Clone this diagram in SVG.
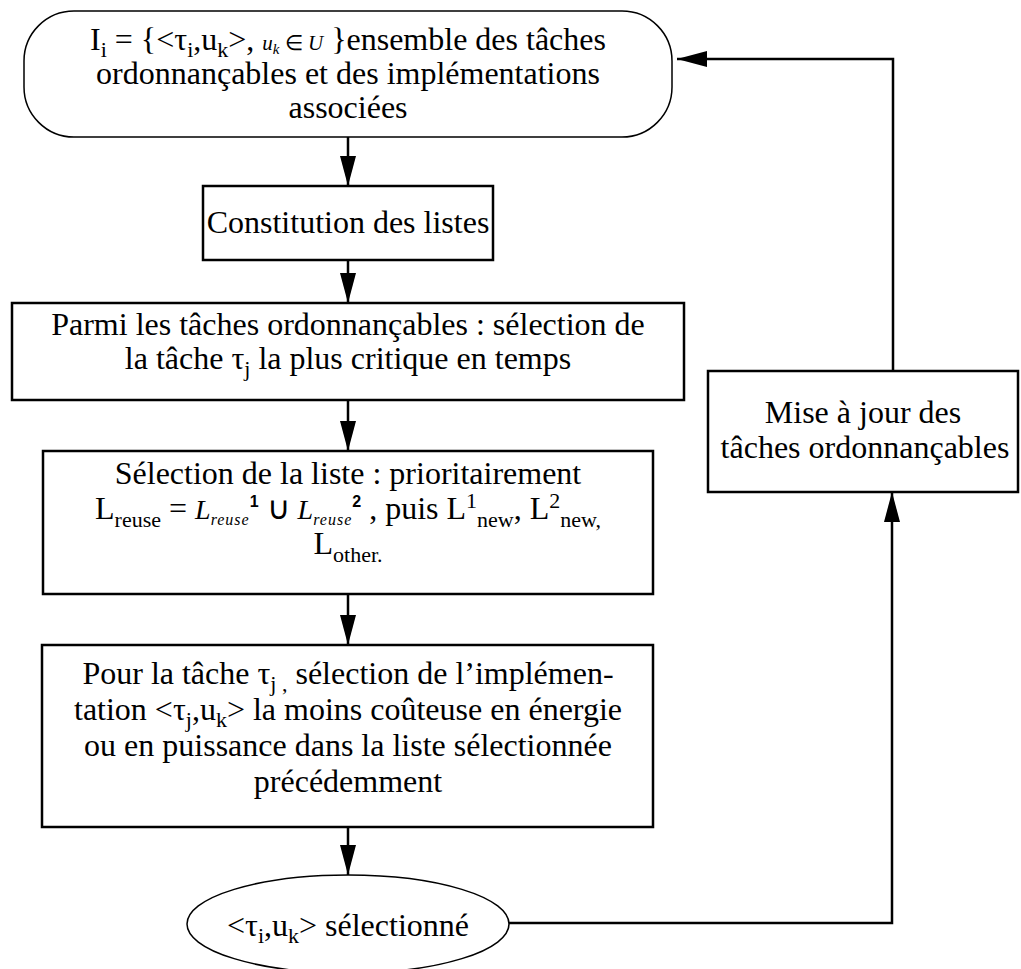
<svg xmlns="http://www.w3.org/2000/svg" width="1021" height="969" viewBox="0 0 1021 969">
<style>
text{font-family:"Liberation Serif","Times New Roman",serif;font-size:32px;fill:#000;text-anchor:middle}
.s{font-size:22px}
.it{font-style:italic}
.b{font-family:"Liberation Sans",Arial,sans-serif;font-weight:bold;font-size:16px}
.box{fill:#fff;stroke:#000;stroke-width:2.5}
.thin{fill:#fff;stroke:#000;stroke-width:1.5}
.con{fill:none;stroke:#000;stroke-width:2.5}
</style>
<defs>
<marker id="ah" markerUnits="userSpaceOnUse" markerWidth="30" markerHeight="16" refX="30" refY="8" orient="auto">
<path d="M0,0 L30,8 L0,16 z" fill="#000"/>
</marker>
</defs>
<rect width="1021" height="969" fill="#fff"/>
<g id="connectors">
<path class="con" d="M348,137 V186" marker-end="url(#ah)"/>
<path class="con" d="M348,260 V303" marker-end="url(#ah)"/>
<path class="con" d="M348,400 V451" marker-end="url(#ah)"/>
<path class="con" d="M348,594 V645" marker-end="url(#ah)"/>
<path class="con" d="M348,827 V875" marker-end="url(#ah)"/>
<path class="con" d="M509,923 H892 V492" marker-end="url(#ah)"/>
<path class="con" d="M893,371 V59 H677" marker-end="url(#ah)"/>
</g>
<g id="n1">
<rect class="thin" x="24" y="11" width="648" height="126" rx="50" ry="50"/>
<text x="348" y="50">I<tspan class="s" dy="7">i</tspan><tspan dy="-7"> = {&lt;τ</tspan><tspan class="s" dy="7">i</tspan><tspan dy="-7">,u</tspan><tspan class="s" dy="7">k</tspan><tspan dy="-7">&gt;, </tspan><tspan class="it" font-size="21">u</tspan><tspan class="it" font-size="15" dy="4">k</tspan><tspan font-size="21" dy="-4"> ∈ </tspan><tspan class="it" font-size="21">U</tspan><tspan> }ensemble des tâches</tspan></text>
<text x="348" y="84">ordonnançables et des implémentations</text>
<text x="348" y="118">associées</text>
</g>
<g id="n2">
<rect class="box" x="203" y="186" width="290" height="74"/>
<text x="348" y="233">Constitution des listes</text>
</g>
<g id="n3">
<rect class="box" x="12" y="303" width="672" height="97"/>
<text x="348" y="335">Parmi les tâches ordonnançables : sélection de</text>
<text x="348" y="369">la tâche  τ<tspan class="s" dy="7">j</tspan><tspan dy="-7"> la plus critique en temps</tspan></text>
</g>
<g id="n4">
<rect class="box" x="43" y="451" width="610" height="143"/>
<text x="348" y="484">Sélection de la liste : prioritairement</text>
<text x="348" y="519">L<tspan class="s" dy="8">reuse</tspan><tspan dy="-8"> = </tspan><tspan class="it" font-size="28">L</tspan><tspan class="it" font-size="16" dy="6" letter-spacing="1">reuse</tspan><tspan class="b" dy="-18">1</tspan><tspan dy="12"> ∪ </tspan><tspan class="it" font-size="28">L</tspan><tspan class="it" font-size="16" dy="6" letter-spacing="1">reuse</tspan><tspan class="b" dy="-18">2</tspan><tspan dy="12"> , puis L</tspan><tspan class="s" dy="-11">1</tspan><tspan class="s" dy="19">new</tspan><tspan dy="-8">, L</tspan><tspan class="s" dy="-11">2</tspan><tspan class="s" dy="19">new,</tspan></text>
<text x="348" y="554">L<tspan class="s" dy="8">other.</tspan></text>
</g>
<g id="n5">
<rect class="box" x="42" y="645" width="611" height="182"/>
<text x="348" y="684">Pour la tâche τ<tspan class="s" dy="7">j ,</tspan><tspan dy="-7">  sélection de l’implémen-</tspan></text>
<text x="348" y="720">tation &lt;τ<tspan class="s" dy="7">j</tspan><tspan dy="-7">,u</tspan><tspan class="s" dy="7">k</tspan><tspan dy="-7">&gt; la moins coûteuse en énergie</tspan></text>
<text x="348" y="756">ou en puissance dans la liste sélectionnée</text>
<text x="348" y="792">précédemment</text>
</g>
<g id="n6">
<ellipse class="thin" cx="348" cy="924" rx="161" ry="49"/>
<text x="348" y="936">&lt;τ<tspan class="s" dy="7">i</tspan><tspan dy="-7">,u</tspan><tspan class="s" dy="7">k</tspan><tspan dy="-7">&gt; sélectionné</tspan></text>
</g>
<g id="n7">
<rect class="box" x="708" y="371" width="310" height="121"/>
<text x="863" y="423">Mise à jour des</text>
<text x="865" y="458">tâches ordonnançables</text>
</g>
</svg>
